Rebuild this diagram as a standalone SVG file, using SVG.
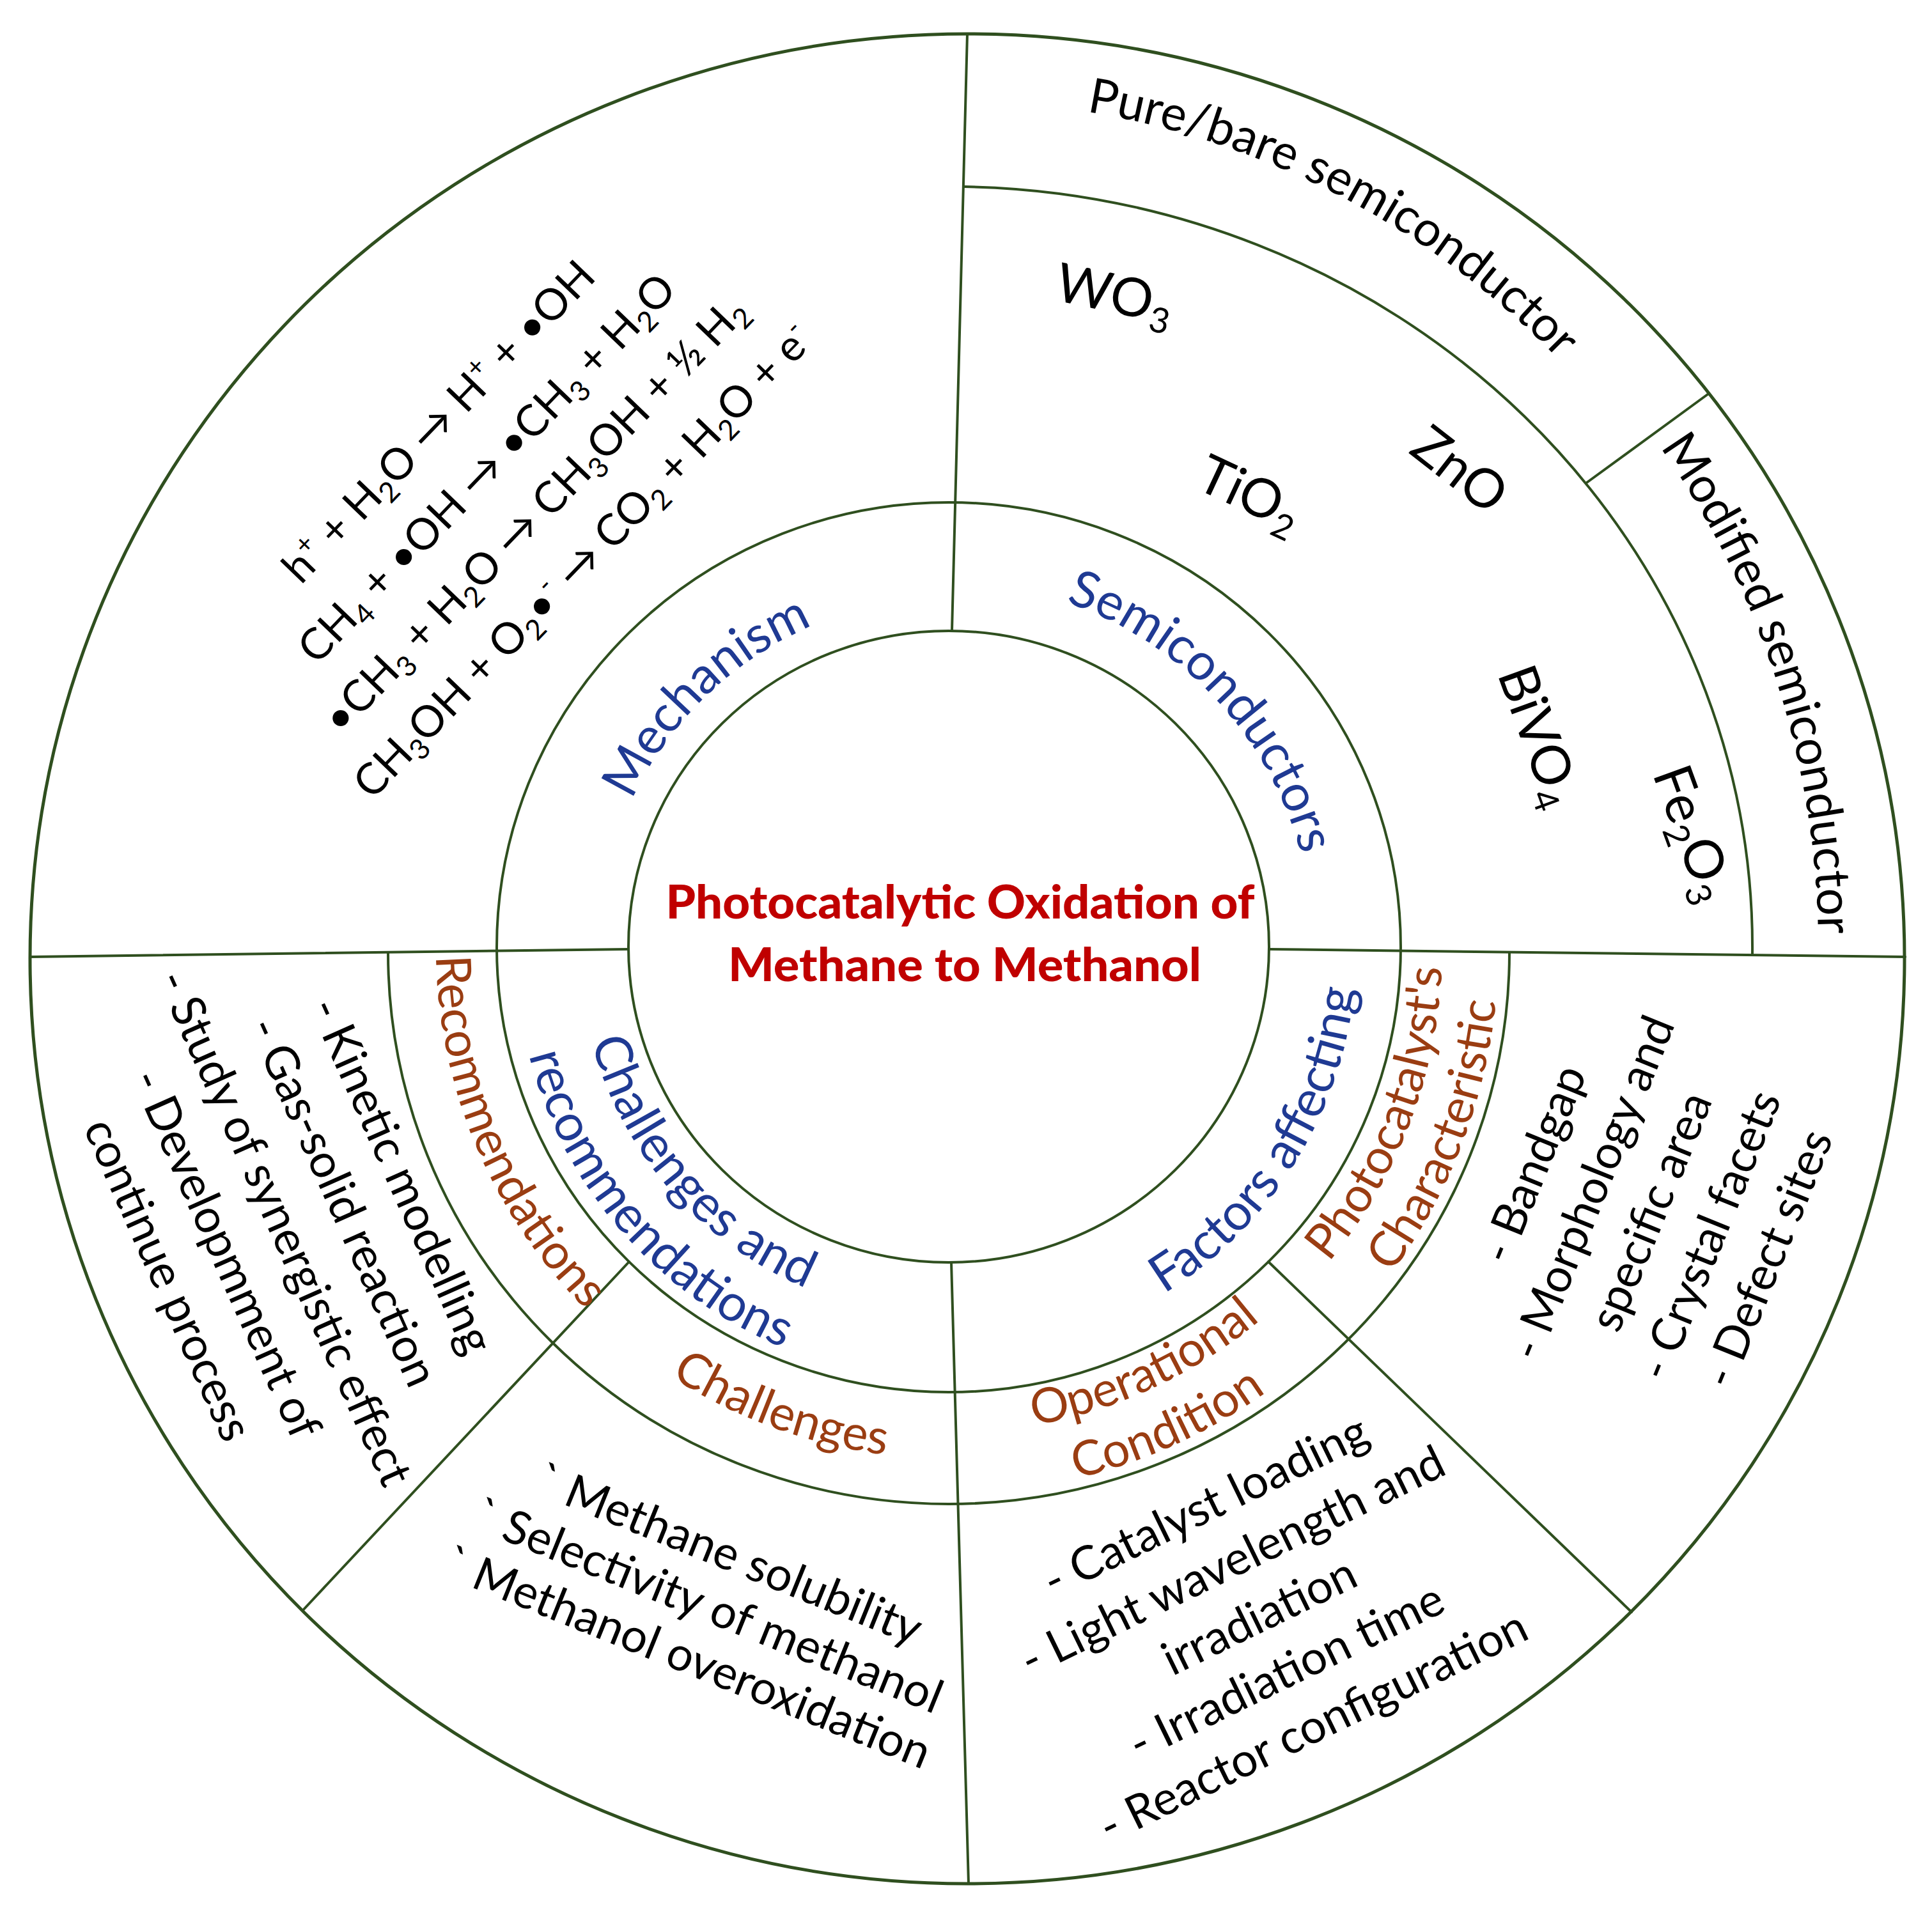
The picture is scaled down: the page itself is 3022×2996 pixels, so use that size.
<svg xmlns="http://www.w3.org/2000/svg" width="3022" height="2996" viewBox="0 0 3022 2996">
<defs>
<style>
text{font-family:Lato,"Liberation Sans",sans-serif;font-size:76px;fill:#000}
.ln{fill:none;stroke:#2f4f1f;stroke-width:4;stroke-linecap:round}
.blue{fill:#1f3a93;font-size:80px}
.brown{fill:#9a3d12}
.title{fill:#c00000;font-weight:900;font-size:72px}
.chem{font-size:84px}
.eq{font-size:68px}
.li{font-size:73px}
</style>
<path id="p-mech" d="M941 1425 A546 546 0 0 1 1446 937"/>
<path id="p-semi" d="M1553.5 916.3 A570 570 0 0 1 2053.2 1452.2"/>
<path id="p-chal1" d="M906.1 1492.1 A578 578 0 0 0 1393.6 2052.9"/>
<path id="p-chal2" d="M806.1 1493.8 A678 678 0 0 0 1377.9 2151.6"/>
<path id="p-fact" d="M1681.2 2088.8 A638 638 0 0 0 2115.8 1393.2"/>
<path id="p-recom" d="M717 1247.5 A802 802 0 0 0 1119.9 2196.6"/>
<path id="p-chall" d="M791.2 1882 A800 800 0 0 0 1757.6 2233.8"/>
<path id="p-oper" d="M1287.3 2216.1 A760 760 0 0 0 2172.8 1803.2"/>
<path id="p-cond" d="M1255.5 2305.9 A855 855 0 0 0 2255.7 1850.1"/>
<path id="p-photo" d="M1858.3 2157.2 A772 772 0 0 0 2213.9 1230.6"/>
<path id="p-char" d="M1900.9 2234.2 A860 860 0 0 0 2297.1 1202"/>
<path id="p-pure" d="M1201.7 187.4 A1325 1325 0 0 1 2709.9 979.2"/>
<path id="p-mod" d="M2204.7 328.7 A1360 1360 0 0 1 2745 1991.5"/>
</defs>
<rect width="3022" height="2996" fill="#fff"/>

<g id="connectors" class="ln">
<ellipse cx="1513" cy="1500" rx="1466" ry="1447" stroke-width="5"/>
<ellipse cx="1484" cy="1482" rx="707" ry="696"/>
<ellipse cx="1484" cy="1481" rx="501" ry="494"/>
<path d="M607 1490 A877 863 0 0 0 2361 1490"/>
<path d="M1508 292 A1257 1190 0 0 1 2741 1492"/>
<path d="M2482 755 L2671 617"/>
<path d="M47 1497 L983 1485"/>
<path d="M1985 1485 L2980 1497"/>
<path d="M1513 53 L1489 987"/>
<path d="M1488 1975 L1515 2947"/>
<path d="M984 1974 L474 2519"/>
<path d="M1984 1974 L2552 2522"/>
</g>

<g id="center-title">
<text class="title" x="1502" y="1437" text-anchor="middle" textLength="921" lengthAdjust="spacingAndGlyphs">Photocatalytic Oxidation of</text>
<text class="title" x="1509" y="1535" text-anchor="middle" textLength="740" lengthAdjust="spacingAndGlyphs">Methane to Methanol</text>
</g>

<g id="mechanism">
<text class="blue"><textPath href="#p-mech" startOffset="50%" text-anchor="middle">Mechanism</textPath></text>
<g transform="rotate(-46)">
<text class="eq" x="2" y="975" text-anchor="middle">h<tspan dy="-27" font-size="62%">+</tspan><tspan dy="27"> + H</tspan><tspan dy="13" font-size="65%">2</tspan><tspan dy="-13">O → H</tspan><tspan dy="-27" font-size="62%">+</tspan><tspan dy="27"> + •OH</tspan></text>
<text class="eq" x="2" y="1080" text-anchor="middle">CH<tspan dy="13" font-size="65%">4</tspan><tspan dy="-13"> + •OH → •CH</tspan><tspan dy="13" font-size="65%">3</tspan><tspan dy="-13"> + H</tspan><tspan dy="13" font-size="65%">2</tspan><tspan dy="-13">O</tspan></text>
<text class="eq" x="2" y="1184" text-anchor="middle">•CH<tspan dy="13" font-size="65%">3</tspan><tspan dy="-13"> + H</tspan><tspan dy="13" font-size="65%">2</tspan><tspan dy="-13">O → CH</tspan><tspan dy="13" font-size="65%">3</tspan><tspan dy="-13">OH + ½ H</tspan><tspan dy="13" font-size="65%">2</tspan></text>
<text class="eq" x="2" y="1289" text-anchor="middle">CH<tspan dy="13" font-size="65%">3</tspan><tspan dy="-13">OH + O</tspan><tspan dy="13" font-size="65%">2</tspan><tspan dy="-13">•</tspan><tspan dy="-27" font-size="62%">-</tspan><tspan dy="27"> → CO</tspan><tspan dy="13" font-size="65%">2</tspan><tspan dy="-13"> + H</tspan><tspan dy="13" font-size="65%">2</tspan><tspan dy="-13">O + e</tspan><tspan dy="-27" font-size="62%">-</tspan></text>
</g>
</g>

<g id="semiconductors">
<text class="blue" font-size="73"><textPath href="#p-semi" startOffset="50%" text-anchor="middle">Semiconductors</textPath></text>
<text><textPath href="#p-pure" startOffset="50%" text-anchor="middle">Pure/bare semiconductor</textPath></text>
<text><textPath href="#p-mod" startOffset="50%" text-anchor="middle">Modified semiconductor</textPath></text>
<g id="wo3" transform="translate(1744 459) rotate(12)"><text class="chem" y="30" text-anchor="middle">WO<tspan dy="16" font-size="65%">3</tspan></text></g>
<g id="tio2" transform="translate(1956 771) rotate(25)"><text class="chem" y="30" text-anchor="middle">TiO<tspan dy="16" font-size="65%">2</tspan></text></g>
<g id="zno" transform="translate(2284 734) rotate(38)"><text class="chem" y="30" text-anchor="middle">ZnO</text></g>
<g id="bivo4" transform="translate(2409 1151) rotate(70)"><text class="chem" y="30" text-anchor="middle">BiVO<tspan dy="16" font-size="65%">4</tspan></text></g>
<g id="fe2o3" transform="translate(2650 1303) rotate(70)"><text class="chem" y="30" text-anchor="middle">Fe<tspan dy="16" font-size="65%">2</tspan><tspan dy="-16">O</tspan><tspan dy="16" font-size="65%">3</tspan></text></g>
</g>

<g id="challenges-recommendations">
<text class="blue" font-size="73"><textPath href="#p-chal1" startOffset="50%" text-anchor="middle">Challenges and</textPath></text>
<text class="blue" font-size="73"><textPath href="#p-chal2" startOffset="50%" text-anchor="middle">recommendations</textPath></text>
</g>

<g id="recommendations">
<text class="brown"><textPath href="#p-recom" startOffset="50%" text-anchor="middle">Recommendations</textPath></text>
<g transform="rotate(66)">
<text class="li" x="1936" y="199" text-anchor="middle">- Kinetic modelling</text>
<text class="li" x="1936" y="299" text-anchor="middle">- Gas-solid reaction</text>
<text class="li" x="1936" y="399" text-anchor="middle">- Study of synergistic effect</text>
<text class="li" x="1936" y="499" text-anchor="middle">- Developmment of</text>
<text class="li" x="1936" y="599" text-anchor="middle">continue process</text>
</g>
</g>

<g id="challenges">
<text class="brown"><textPath href="#p-chall" startOffset="50%" text-anchor="middle">Challenges</textPath></text>
<g transform="rotate(22)">
<text class="li" x="1969" y="1852" text-anchor="middle">` Methane solubility</text>
<text class="li" x="1969" y="1939" text-anchor="middle">` Selectivity of methanol</text>
<text class="li" x="1969" y="2026" text-anchor="middle">` Methanol overoxidation</text>
</g>
</g>

<g id="factors-affecting">
<text class="blue" font-size="77"><textPath href="#p-fact" startOffset="50%" text-anchor="middle">Factors affecting</textPath></text>
</g>

<g id="operational-condition">
<text class="brown"><textPath href="#p-oper" startOffset="50%" text-anchor="middle">Operational</textPath></text>
<text class="brown"><textPath href="#p-cond" startOffset="50%" text-anchor="middle">Condition</textPath></text>
<g transform="rotate(-26)">
<text class="li" x="662" y="2969" text-anchor="middle">- Catalyst loading</text>
<text class="li" x="662" y="3065" text-anchor="middle">- Light wavelength and</text>
<text class="li" x="662" y="3161" text-anchor="middle">irradiation</text>
<text class="li" x="662" y="3257" text-anchor="middle">- Irradiation time</text>
<text class="li" x="662" y="3353" text-anchor="middle">- Reactor configuration</text>
</g>
</g>

<g id="photocatalyst-characteristic">
<text class="brown" font-size="65"><textPath href="#p-photo" startOffset="50%" text-anchor="middle">Photocatalyst's</textPath></text>
<text class="brown" font-size="65"><textPath href="#p-char" startOffset="50%" text-anchor="middle">Characteristic</textPath></text>
<g transform="rotate(-68)">
<text class="li" x="-790" y="2931" text-anchor="middle">- Bandgap</text>
<text class="li" x="-790" y="3030" text-anchor="middle">- Morphology and</text>
<text class="li" x="-790" y="3129" text-anchor="middle">specific area</text>
<text class="li" x="-790" y="3228" text-anchor="middle">- Crystal facets</text>
<text class="li" x="-790" y="3326" text-anchor="middle">- Defect sites</text>
</g>
</g>
</svg>
